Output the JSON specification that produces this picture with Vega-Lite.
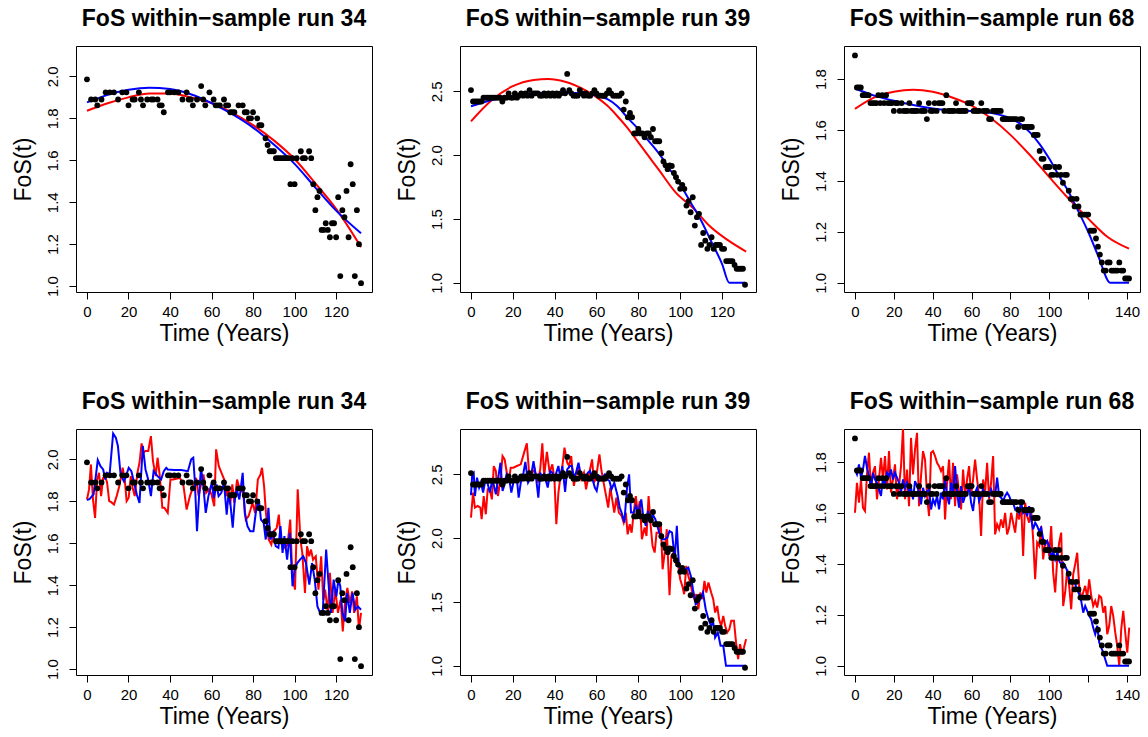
{
"$schema": "https://vega.github.io/schema/vega-lite/v6.json",
"background": "white",
"padding": {"left": 11, "top": 7, "right": 5, "bottom": 5},
"config": {
 "font": "Liberation Sans",
 "view": {"stroke": "black", "strokeWidth": 1},
 "axis": {"grid": false, "domain": false, "ticks": true, "tickColor": "black", "tickSize": 7, "tickWidth": 1, "labelColor": "black", "labelFontSize": 15, "titleColor": "black", "titleFontSize": 23, "titleFontWeight": "normal", "labelFont": "Liberation Sans", "titleFont": "Liberation Sans", "labelOverlap": false, "labelFlush": false},
 "axisX": {"labelPadding": 5, "titlePadding": 3},
 "axisY": {"labelAngle": -90, "labelAlign": "center", "labelBaseline": "alphabetic", "labelPadding": 12, "titlePadding": 10},
 "title": {"fontSize": 23, "fontWeight": "bold", "color": "black", "offset": 15, "font": "Liberation Sans"}
},
"datasets": {
 "o34": [{"t":0,"y":1.986},{"t":2,"y":1.89},{"t":4,"y":1.89},{"t":5,"y":1.862},{"t":7,"y":1.89},{"t":9,"y":1.924},{"t":11,"y":1.924},{"t":13,"y":1.924},{"t":15,"y":1.89},{"t":17,"y":1.924},{"t":19,"y":1.924},{"t":20,"y":1.862},{"t":22,"y":1.89},{"t":23,"y":1.89},{"t":25,"y":1.924},{"t":26,"y":1.89},{"t":27,"y":1.862},{"t":29,"y":1.89},{"t":31,"y":1.89},{"t":32,"y":1.89},{"t":34,"y":1.89},{"t":35,"y":1.862},{"t":36,"y":1.862},{"t":37,"y":1.829},{"t":39,"y":1.924},{"t":40,"y":1.924},{"t":42,"y":1.924},{"t":44,"y":1.924},{"t":46,"y":1.89},{"t":48,"y":1.924},{"t":49,"y":1.89},{"t":50,"y":1.89},{"t":51,"y":1.862},{"t":53,"y":1.89},{"t":55,"y":1.954},{"t":56,"y":1.89},{"t":57,"y":1.862},{"t":59,"y":1.924},{"t":61,"y":1.89},{"t":62,"y":1.862},{"t":63,"y":1.862},{"t":64,"y":1.862},{"t":66,"y":1.89},{"t":67,"y":1.862},{"t":68,"y":1.862},{"t":69,"y":1.829},{"t":70,"y":1.829},{"t":71,"y":1.829},{"t":73,"y":1.862},{"t":75,"y":1.862},{"t":76,"y":1.829},{"t":77,"y":1.829},{"t":78,"y":1.8},{"t":79,"y":1.8},{"t":80,"y":1.829},{"t":82,"y":1.8},{"t":83,"y":1.767},{"t":84,"y":1.767},{"t":86,"y":1.705},{"t":87,"y":1.673},{"t":88,"y":1.643},{"t":89,"y":1.643},{"t":90,"y":1.643},{"t":91,"y":1.61},{"t":92,"y":1.61},{"t":93,"y":1.61},{"t":94,"y":1.61},{"t":95,"y":1.61},{"t":96,"y":1.61},{"t":97,"y":1.61},{"t":98,"y":1.486},{"t":99,"y":1.61},{"t":100,"y":1.486},{"t":101,"y":1.61},{"t":103,"y":1.643},{"t":104,"y":1.61},{"t":105,"y":1.61},{"t":107,"y":1.643},{"t":108,"y":1.61},{"t":109,"y":1.486},{"t":110,"y":1.362},{"t":111,"y":1.424},{"t":112,"y":1.454},{"t":113,"y":1.268},{"t":114,"y":1.268},{"t":115,"y":1.3},{"t":116,"y":1.268},{"t":117,"y":1.233},{"t":118,"y":1.3},{"t":119,"y":1.3},{"t":120,"y":1.233},{"t":121,"y":1.424},{"t":122,"y":1.048},{"t":123,"y":1.362},{"t":124,"y":1.329},{"t":125,"y":1.454},{"t":126,"y":1.233},{"t":127,"y":1.581},{"t":128,"y":1.486},{"t":129,"y":1.048},{"t":130,"y":1.362},{"t":131,"y":1.2},{"t":132,"y":1.014}],
 "o39": [{"t":0,"y":2.51},{"t":1,"y":2.42},{"t":2,"y":2.42},{"t":3,"y":2.42},{"t":4,"y":2.42},{"t":5,"y":2.42},{"t":6,"y":2.45},{"t":7,"y":2.45},{"t":8,"y":2.45},{"t":9,"y":2.45},{"t":10,"y":2.45},{"t":11,"y":2.45},{"t":12,"y":2.45},{"t":13,"y":2.45},{"t":14,"y":2.45},{"t":15,"y":2.42},{"t":16,"y":2.45},{"t":17,"y":2.45},{"t":18,"y":2.484},{"t":19,"y":2.45},{"t":20,"y":2.45},{"t":21,"y":2.484},{"t":22,"y":2.45},{"t":23,"y":2.466},{"t":24,"y":2.484},{"t":25,"y":2.466},{"t":26,"y":2.484},{"t":27,"y":2.466},{"t":28,"y":2.51},{"t":29,"y":2.466},{"t":30,"y":2.484},{"t":31,"y":2.484},{"t":32,"y":2.484},{"t":33,"y":2.466},{"t":34,"y":2.466},{"t":35,"y":2.484},{"t":36,"y":2.466},{"t":37,"y":2.484},{"t":38,"y":2.466},{"t":39,"y":2.484},{"t":40,"y":2.466},{"t":41,"y":2.484},{"t":42,"y":2.466},{"t":43,"y":2.484},{"t":44,"y":2.51},{"t":45,"y":2.484},{"t":46,"y":2.636},{"t":47,"y":2.51},{"t":48,"y":2.484},{"t":49,"y":2.466},{"t":50,"y":2.466},{"t":51,"y":2.466},{"t":52,"y":2.51},{"t":53,"y":2.484},{"t":54,"y":2.466},{"t":55,"y":2.484},{"t":56,"y":2.466},{"t":57,"y":2.466},{"t":58,"y":2.484},{"t":59,"y":2.51},{"t":60,"y":2.484},{"t":61,"y":2.466},{"t":62,"y":2.466},{"t":63,"y":2.466},{"t":64,"y":2.466},{"t":65,"y":2.484},{"t":66,"y":2.51},{"t":67,"y":2.484},{"t":68,"y":2.466},{"t":69,"y":2.466},{"t":70,"y":2.466},{"t":71,"y":2.466},{"t":72,"y":2.484},{"t":73,"y":2.357},{"t":74,"y":2.42},{"t":75,"y":2.297},{"t":76,"y":2.33},{"t":77,"y":2.297},{"t":78,"y":2.17},{"t":79,"y":2.17},{"t":80,"y":2.205},{"t":81,"y":2.17},{"t":82,"y":2.17},{"t":83,"y":2.14},{"t":84,"y":2.17},{"t":85,"y":2.17},{"t":86,"y":2.14},{"t":87,"y":2.205},{"t":88,"y":2.109},{"t":89,"y":2.109},{"t":90,"y":2.109},{"t":91,"y":2.015},{"t":92,"y":1.95},{"t":93,"y":1.92},{"t":94,"y":1.89},{"t":95,"y":1.92},{"t":96,"y":1.915},{"t":97,"y":1.86},{"t":98,"y":1.827},{"t":99,"y":1.793},{"t":100,"y":1.736},{"t":101,"y":1.767},{"t":102,"y":1.736},{"t":103,"y":1.605},{"t":104,"y":1.64},{"t":105,"y":1.553},{"t":106,"y":1.67},{"t":107,"y":1.448},{"t":108,"y":1.514},{"t":109,"y":1.54},{"t":110,"y":1.297},{"t":111,"y":1.39},{"t":112,"y":1.33},{"t":113,"y":1.266},{"t":114,"y":1.297},{"t":115,"y":1.357},{"t":116,"y":1.266},{"t":117,"y":1.297},{"t":118,"y":1.297},{"t":119,"y":1.297},{"t":120,"y":1.266},{"t":121,"y":1.266},{"t":122,"y":1.17},{"t":123,"y":1.17},{"t":124,"y":1.17},{"t":125,"y":1.17},{"t":126,"y":1.14},{"t":127,"y":1.11},{"t":128,"y":1.11},{"t":129,"y":1.11},{"t":130,"y":1.11},{"t":131,"y":0.985}],
 "o68": [{"t":0,"y":1.893},{"t":1,"y":1.767},{"t":2,"y":1.767},{"t":3,"y":1.767},{"t":4,"y":1.737},{"t":5,"y":1.737},{"t":6,"y":1.737},{"t":7,"y":1.737},{"t":8,"y":1.706},{"t":9,"y":1.706},{"t":10,"y":1.706},{"t":11,"y":1.706},{"t":12,"y":1.737},{"t":13,"y":1.706},{"t":14,"y":1.737},{"t":15,"y":1.706},{"t":16,"y":1.737},{"t":17,"y":1.706},{"t":18,"y":1.706},{"t":19,"y":1.706},{"t":20,"y":1.675},{"t":21,"y":1.706},{"t":22,"y":1.706},{"t":23,"y":1.675},{"t":24,"y":1.706},{"t":25,"y":1.675},{"t":26,"y":1.675},{"t":27,"y":1.675},{"t":28,"y":1.706},{"t":29,"y":1.675},{"t":30,"y":1.675},{"t":31,"y":1.675},{"t":32,"y":1.675},{"t":33,"y":1.706},{"t":34,"y":1.675},{"t":35,"y":1.675},{"t":36,"y":1.675},{"t":37,"y":1.643},{"t":38,"y":1.706},{"t":39,"y":1.675},{"t":40,"y":1.675},{"t":41,"y":1.706},{"t":42,"y":1.675},{"t":43,"y":1.706},{"t":44,"y":1.706},{"t":45,"y":1.706},{"t":46,"y":1.675},{"t":47,"y":1.737},{"t":48,"y":1.675},{"t":49,"y":1.675},{"t":50,"y":1.675},{"t":51,"y":1.675},{"t":52,"y":1.706},{"t":53,"y":1.675},{"t":54,"y":1.675},{"t":55,"y":1.675},{"t":56,"y":1.675},{"t":57,"y":1.675},{"t":58,"y":1.706},{"t":59,"y":1.706},{"t":60,"y":1.706},{"t":61,"y":1.675},{"t":62,"y":1.675},{"t":63,"y":1.675},{"t":64,"y":1.675},{"t":65,"y":1.706},{"t":66,"y":1.675},{"t":67,"y":1.675},{"t":68,"y":1.675},{"t":69,"y":1.643},{"t":70,"y":1.643},{"t":71,"y":1.675},{"t":72,"y":1.675},{"t":73,"y":1.675},{"t":74,"y":1.675},{"t":75,"y":1.675},{"t":76,"y":1.643},{"t":77,"y":1.643},{"t":78,"y":1.643},{"t":79,"y":1.643},{"t":80,"y":1.643},{"t":81,"y":1.643},{"t":82,"y":1.643},{"t":83,"y":1.643},{"t":84,"y":1.612},{"t":85,"y":1.643},{"t":86,"y":1.643},{"t":87,"y":1.612},{"t":88,"y":1.612},{"t":89,"y":1.612},{"t":90,"y":1.612},{"t":91,"y":1.612},{"t":92,"y":1.581},{"t":93,"y":1.581},{"t":94,"y":1.581},{"t":95,"y":1.518},{"t":96,"y":1.487},{"t":97,"y":1.487},{"t":98,"y":1.455},{"t":99,"y":1.455},{"t":100,"y":1.455},{"t":101,"y":1.424},{"t":102,"y":1.424},{"t":103,"y":1.455},{"t":104,"y":1.424},{"t":105,"y":1.455},{"t":106,"y":1.424},{"t":107,"y":1.393},{"t":108,"y":1.424},{"t":109,"y":1.424},{"t":110,"y":1.362},{"t":111,"y":1.33},{"t":112,"y":1.33},{"t":113,"y":1.3},{"t":114,"y":1.33},{"t":115,"y":1.3},{"t":116,"y":1.268},{"t":117,"y":1.268},{"t":118,"y":1.268},{"t":119,"y":1.268},{"t":120,"y":1.268},{"t":121,"y":1.205},{"t":122,"y":1.205},{"t":123,"y":1.205},{"t":124,"y":1.174},{"t":125,"y":1.142},{"t":126,"y":1.111},{"t":127,"y":1.08},{"t":128,"y":1.048},{"t":129,"y":1.048},{"t":130,"y":1.08},{"t":131,"y":1.08},{"t":132,"y":1.048},{"t":133,"y":1.048},{"t":134,"y":1.048},{"t":135,"y":1.048},{"t":136,"y":1.08},{"t":137,"y":1.048},{"t":138,"y":1.048},{"t":139,"y":1.017},{"t":140,"y":1.017},{"t":141,"y":1.017}],
 "a34r": [{"t":0,"y":1.836},{"t":10,"y":1.872},{"t":20,"y":1.9},{"t":30,"y":1.918},{"t":40,"y":1.918},{"t":50,"y":1.9},{"t":60,"y":1.873},{"t":70,"y":1.826},{"t":80,"y":1.768},{"t":90,"y":1.695},{"t":100,"y":1.606},{"t":110,"y":1.49},{"t":120,"y":1.368},{"t":132,"y":1.186}],
 "a34b": [{"t":0,"y":1.876},{"t":10,"y":1.912},{"t":20,"y":1.936},{"t":30,"y":1.946},{"t":40,"y":1.94},{"t":50,"y":1.915},{"t":60,"y":1.873},{"t":70,"y":1.82},{"t":80,"y":1.756},{"t":90,"y":1.675},{"t":100,"y":1.583},{"t":110,"y":1.47},{"t":120,"y":1.36},{"t":132,"y":1.252}],
 "a39r": [{"t":0,"y":2.265},{"t":10,"y":2.432},{"t":20,"y":2.54},{"t":30,"y":2.589},{"t":37,"y":2.597},{"t":45,"y":2.575},{"t":55,"y":2.505},{"t":60,"y":2.455},{"t":65,"y":2.39},{"t":70,"y":2.305},{"t":75,"y":2.21},{"t":80,"y":2.1},{"t":85,"y":1.99},{"t":90,"y":1.88},{"t":97.7,"y":1.71},{"t":106.6,"y":1.579},{"t":113.8,"y":1.449},{"t":121.9,"y":1.344},{"t":131.5,"y":1.245}],
 "a39b": [{"t":0,"y":2.383},{"t":10,"y":2.432},{"t":20,"y":2.466},{"t":30,"y":2.485},{"t":40,"y":2.49},{"t":50,"y":2.487},{"t":60,"y":2.466},{"t":65,"y":2.44},{"t":70,"y":2.383},{"t":75,"y":2.29},{"t":80,"y":2.205},{"t":85,"y":2.11},{"t":90,"y":2.01},{"t":95,"y":1.89},{"t":100,"y":1.77},{"t":105,"y":1.63},{"t":110,"y":1.488},{"t":115,"y":1.318},{"t":120,"y":1.149},{"t":123.5,"y":1.0},{"t":131,"y":1.0}],
 "a68r": [{"t":0,"y":1.683},{"t":10,"y":1.728},{"t":20,"y":1.75},{"t":30,"y":1.758},{"t":40,"y":1.75},{"t":50,"y":1.728},{"t":60,"y":1.696},{"t":70,"y":1.646},{"t":80,"y":1.581},{"t":90,"y":1.502},{"t":100,"y":1.415},{"t":110,"y":1.33},{"t":120,"y":1.252},{"t":130,"y":1.18},{"t":141,"y":1.134}],
 "a68b": [{"t":0,"y":1.763},{"t":10,"y":1.735},{"t":20,"y":1.715},{"t":30,"y":1.698},{"t":40,"y":1.685},{"t":50,"y":1.677},{"t":60,"y":1.675},{"t":70,"y":1.667},{"t":80,"y":1.646},{"t":85,"y":1.625},{"t":90,"y":1.591},{"t":95,"y":1.545},{"t":100,"y":1.487},{"t":105,"y":1.42},{"t":110,"y":1.356},{"t":115,"y":1.28},{"t":120,"y":1.2},{"t":125,"y":1.108},{"t":131.5,"y":1.0},{"t":141,"y":1.0}],
 "b34b": [{"t":0,"y":1.806},{"t":1.3,"y":1.812},{"t":3.2,"y":1.833},{"t":5.2,"y":1.997},{"t":6.5,"y":1.968},{"t":7.8,"y":1.952},{"t":8.8,"y":1.904},{"t":9.7,"y":1.936},{"t":10.9,"y":1.928},{"t":12.6,"y":2.124},{"t":13.9,"y":2.104},{"t":14.9,"y":2.064},{"t":16.2,"y":1.928},{"t":17.8,"y":1.896},{"t":18.8,"y":1.92},{"t":20.1,"y":1.96},{"t":21.4,"y":1.944},{"t":22.7,"y":1.889},{"t":24,"y":1.833},{"t":25.3,"y":1.793},{"t":26.9,"y":2.064},{"t":28.2,"y":1.952},{"t":29.5,"y":1.904},{"t":30.8,"y":1.825},{"t":32.1,"y":1.944},{"t":34,"y":1.92},{"t":35.7,"y":1.904},{"t":37,"y":1.944},{"t":38.2,"y":1.96},{"t":38.9,"y":1.952},{"t":42.1,"y":1.95},{"t":45.4,"y":1.95},{"t":48.6,"y":1.944},{"t":50.2,"y":2.0},{"t":51.2,"y":2.008},{"t":51.9,"y":1.904},{"t":53,"y":1.658},{"t":54,"y":1.825},{"t":54.9,"y":1.96},{"t":55.9,"y":1.889},{"t":57.2,"y":1.745},{"t":58.5,"y":1.825},{"t":60.1,"y":1.889},{"t":61.1,"y":1.817},{"t":62.4,"y":1.881},{"t":63.4,"y":1.825},{"t":64.7,"y":1.841},{"t":66,"y":1.889},{"t":67.3,"y":1.737},{"t":68.2,"y":1.841},{"t":69.2,"y":1.777},{"t":70.2,"y":1.674},{"t":71.2,"y":1.809},{"t":72.1,"y":1.857},{"t":73.4,"y":1.809},{"t":75,"y":1.936},{"t":76,"y":1.745},{"t":77.3,"y":1.682},{"t":78.6,"y":1.658},{"t":80.2,"y":1.658},{"t":81.5,"y":1.761},{"t":82.8,"y":1.809},{"t":83.8,"y":1.713},{"t":85.1,"y":1.697},{"t":86.1,"y":1.618},{"t":87.4,"y":1.769},{"t":88.3,"y":1.618},{"t":89.6,"y":1.65},{"t":90.9,"y":1.586},{"t":92.2,"y":1.578},{"t":93.2,"y":1.682},{"t":94.2,"y":1.554},{"t":95.1,"y":1.634},{"t":96.4,"y":1.522},{"t":97.7,"y":1.65},{"t":99,"y":1.395},{"t":100,"y":1.475},{"t":101.3,"y":1.506},{"t":102.6,"y":1.522},{"t":104.2,"y":1.538},{"t":105.5,"y":1.506},{"t":107.1,"y":1.403},{"t":108.4,"y":1.506},{"t":109.7,"y":1.427},{"t":111,"y":1.299},{"t":112.3,"y":1.268},{"t":113.6,"y":1.283},{"t":115.2,"y":1.57},{"t":116.2,"y":1.427},{"t":117.5,"y":1.268},{"t":118.8,"y":1.427},{"t":120.1,"y":1.347},{"t":121.1,"y":1.427},{"t":122,"y":1.395},{"t":123,"y":1.268},{"t":124.3,"y":1.228},{"t":125.3,"y":1.363},{"t":126.6,"y":1.268},{"t":127.9,"y":1.363},{"t":129.2,"y":1.283},{"t":130.5,"y":1.299},{"t":132,"y":1.283}],
 "b34r": [{"t":0,"y":1.809},{"t":1,"y":1.857},{"t":1.9,"y":1.976},{"t":2.9,"y":1.809},{"t":3.9,"y":1.721},{"t":4.9,"y":1.904},{"t":5.8,"y":1.936},{"t":6.8,"y":1.825},{"t":7.8,"y":1.912},{"t":8.8,"y":1.92},{"t":9.7,"y":1.889},{"t":10.7,"y":1.801},{"t":11.7,"y":1.796},{"t":13,"y":1.785},{"t":14.3,"y":1.825},{"t":15.6,"y":1.873},{"t":17.2,"y":1.96},{"t":18.2,"y":1.904},{"t":19.1,"y":1.801},{"t":20.1,"y":1.817},{"t":21.1,"y":1.92},{"t":22,"y":1.865},{"t":23,"y":1.825},{"t":24.3,"y":1.936},{"t":25.3,"y":1.984},{"t":26.3,"y":2.076},{"t":27.2,"y":2.032},{"t":28.2,"y":2.04},{"t":29.5,"y":2.04},{"t":30.8,"y":2.111},{"t":31.8,"y":1.992},{"t":33.1,"y":1.92},{"t":34,"y":2.008},{"t":35,"y":1.928},{"t":36.3,"y":1.769},{"t":37.3,"y":1.769},{"t":38.9,"y":1.745},{"t":40.2,"y":1.904},{"t":41.5,"y":1.904},{"t":43.1,"y":1.908},{"t":44.7,"y":1.912},{"t":46.4,"y":1.881},{"t":48,"y":1.761},{"t":49.6,"y":1.825},{"t":51.2,"y":1.873},{"t":52.5,"y":1.912},{"t":53.8,"y":1.825},{"t":55.1,"y":1.889},{"t":56.1,"y":1.928},{"t":57.4,"y":1.841},{"t":58.7,"y":1.857},{"t":60,"y":1.833},{"t":61.3,"y":1.777},{"t":62.2,"y":2.048},{"t":63.5,"y":1.968},{"t":64.8,"y":1.936},{"t":66.1,"y":1.904},{"t":67.1,"y":1.825},{"t":68.1,"y":1.865},{"t":69,"y":1.785},{"t":70,"y":1.881},{"t":71,"y":1.793},{"t":72.3,"y":1.904},{"t":73.6,"y":1.857},{"t":75.2,"y":1.841},{"t":76.5,"y":1.713},{"t":77.8,"y":1.729},{"t":78.8,"y":1.761},{"t":79.7,"y":1.793},{"t":81,"y":1.745},{"t":82.3,"y":1.904},{"t":83.6,"y":1.928},{"t":84.3,"y":1.96},{"t":85.3,"y":1.873},{"t":86.2,"y":1.745},{"t":87.5,"y":1.618},{"t":88.8,"y":1.594},{"t":90.1,"y":1.658},{"t":91.4,"y":1.674},{"t":92.4,"y":1.737},{"t":93.4,"y":1.602},{"t":94.3,"y":1.586},{"t":95.3,"y":1.578},{"t":96.6,"y":1.594},{"t":97.9,"y":1.713},{"t":98.9,"y":1.443},{"t":100.2,"y":1.379},{"t":101.5,"y":1.857},{"t":102.8,"y":1.618},{"t":103.7,"y":1.554},{"t":105,"y":1.363},{"t":106,"y":1.586},{"t":107,"y":1.538},{"t":107.9,"y":1.57},{"t":108.9,"y":1.522},{"t":110.2,"y":1.538},{"t":111.5,"y":1.379},{"t":112.8,"y":1.538},{"t":113.8,"y":1.331},{"t":114.7,"y":1.379},{"t":116,"y":1.268},{"t":117,"y":1.459},{"t":118.3,"y":1.268},{"t":119.6,"y":1.379},{"t":120.9,"y":1.268},{"t":122.2,"y":1.331},{"t":123.2,"y":1.18},{"t":124.1,"y":1.299},{"t":125.4,"y":1.387},{"t":126.7,"y":1.315},{"t":127.7,"y":1.371},{"t":128.7,"y":1.268},{"t":130,"y":1.347},{"t":131,"y":1.188},{"t":132,"y":1.268}],
 "b39b": [{"t":0,"y":2.336},{"t":0.6,"y":2.5},{"t":1.3,"y":2.513},{"t":1.9,"y":2.33},{"t":2.9,"y":2.474},{"t":3.9,"y":2.396},{"t":4.8,"y":2.435},{"t":5.8,"y":2.357},{"t":6.8,"y":2.448},{"t":7.7,"y":2.448},{"t":9,"y":2.357},{"t":10.3,"y":2.461},{"t":11.9,"y":2.343},{"t":12.9,"y":2.461},{"t":14.1,"y":2.591},{"t":15.1,"y":2.37},{"t":16.1,"y":2.422},{"t":17,"y":2.5},{"t":18.3,"y":2.461},{"t":19.3,"y":2.357},{"t":20.6,"y":2.461},{"t":21.9,"y":2.474},{"t":22.8,"y":2.317},{"t":23.8,"y":2.435},{"t":25.1,"y":2.513},{"t":26,"y":2.597},{"t":27.3,"y":2.435},{"t":28.6,"y":2.474},{"t":29.9,"y":2.604},{"t":31.2,"y":2.461},{"t":32.2,"y":2.317},{"t":33.1,"y":2.513},{"t":34.1,"y":2.474},{"t":35,"y":2.5},{"t":36.7,"y":2.396},{"t":37.9,"y":2.526},{"t":38.9,"y":2.513},{"t":39.9,"y":2.461},{"t":40.8,"y":2.513},{"t":41.8,"y":2.565},{"t":42.8,"y":2.461},{"t":43.7,"y":2.565},{"t":45,"y":2.362},{"t":46,"y":2.539},{"t":47.3,"y":2.565},{"t":48.2,"y":2.565},{"t":49.2,"y":2.474},{"t":50.2,"y":2.513},{"t":51.4,"y":2.591},{"t":52.4,"y":2.5},{"t":53.7,"y":2.461},{"t":54.7,"y":2.474},{"t":55.9,"y":2.513},{"t":56.9,"y":2.526},{"t":57.9,"y":2.474},{"t":59.2,"y":2.396},{"t":60.1,"y":2.37},{"t":61.4,"y":2.487},{"t":62.7,"y":2.474},{"t":64,"y":2.5},{"t":65,"y":2.461},{"t":66.2,"y":2.448},{"t":67.2,"y":2.383},{"t":68.5,"y":2.435},{"t":70.1,"y":2.33},{"t":71.1,"y":2.239},{"t":72,"y":2.2},{"t":73.3,"y":2.122},{"t":74.6,"y":2.396},{"t":75.6,"y":2.5},{"t":76.5,"y":2.2},{"t":77.8,"y":2.2},{"t":78.8,"y":2.252},{"t":80.1,"y":2.2},{"t":81.4,"y":2.304},{"t":82.3,"y":2.174},{"t":83.6,"y":2.096},{"t":84.6,"y":2.213},{"t":85.9,"y":2.122},{"t":86.8,"y":2.187},{"t":88.1,"y":2.148},{"t":89.1,"y":2.096},{"t":90,"y":2.043},{"t":91.3,"y":1.991},{"t":92.6,"y":1.991},{"t":93.9,"y":2.004},{"t":94.9,"y":2.056},{"t":96.1,"y":2.043},{"t":97.4,"y":1.835},{"t":98.4,"y":2.096},{"t":99.4,"y":1.783},{"t":100.3,"y":1.756},{"t":101.3,"y":1.73},{"t":102.6,"y":1.756},{"t":103.9,"y":1.77},{"t":105.1,"y":1.704},{"t":106.1,"y":1.6},{"t":107.4,"y":1.483},{"t":108.4,"y":1.496},{"t":109.6,"y":1.522},{"t":110.9,"y":1.574},{"t":112.2,"y":1.443},{"t":113.5,"y":1.365},{"t":114.8,"y":1.313},{"t":115.8,"y":1.339},{"t":116.7,"y":1.222},{"t":118,"y":1.261},{"t":119.3,"y":1.157},{"t":120.6,"y":1.157},{"t":121.9,"y":1.0},{"t":131.5,"y":1.0}],
 "b39r": [{"t":0,"y":2.161},{"t":1,"y":2.357},{"t":1.9,"y":2.239},{"t":3.2,"y":2.252},{"t":4.5,"y":2.239},{"t":5.1,"y":2.148},{"t":6.1,"y":2.33},{"t":7.1,"y":2.187},{"t":8,"y":2.383},{"t":9,"y":2.383},{"t":10,"y":2.304},{"t":10.9,"y":2.565},{"t":11.9,"y":2.526},{"t":12.9,"y":2.33},{"t":14.1,"y":2.461},{"t":15.1,"y":2.643},{"t":16.1,"y":2.617},{"t":17,"y":2.526},{"t":18,"y":2.435},{"t":19,"y":2.552},{"t":20.3,"y":2.552},{"t":21.9,"y":2.565},{"t":23.8,"y":2.578},{"t":25.4,"y":2.67},{"t":26.7,"y":2.743},{"t":28,"y":2.461},{"t":29.3,"y":2.513},{"t":30.5,"y":2.539},{"t":31.8,"y":2.435},{"t":33.1,"y":2.539},{"t":34.1,"y":2.743},{"t":35,"y":2.487},{"t":36.3,"y":2.675},{"t":37.6,"y":2.513},{"t":38.9,"y":2.578},{"t":39.9,"y":2.461},{"t":40.8,"y":2.109},{"t":41.8,"y":2.357},{"t":42.8,"y":2.487},{"t":43.7,"y":2.565},{"t":44.7,"y":2.709},{"t":46,"y":2.591},{"t":46.9,"y":2.565},{"t":47.9,"y":2.643},{"t":49.2,"y":2.409},{"t":50.2,"y":2.5},{"t":51.4,"y":2.539},{"t":52.7,"y":2.461},{"t":54,"y":2.513},{"t":55,"y":2.383},{"t":55.9,"y":2.461},{"t":56.9,"y":2.539},{"t":57.9,"y":2.617},{"t":58.8,"y":2.435},{"t":59.8,"y":2.474},{"t":61.4,"y":2.657},{"t":62.4,"y":2.526},{"t":63.7,"y":2.409},{"t":64.6,"y":2.33},{"t":65.6,"y":2.239},{"t":66.6,"y":2.396},{"t":67.5,"y":2.304},{"t":68.5,"y":2.2},{"t":69.5,"y":2.317},{"t":70.7,"y":2.2},{"t":72,"y":2.174},{"t":73,"y":2.122},{"t":74,"y":2.2},{"t":74.9,"y":2.03},{"t":75.9,"y":2.109},{"t":76.8,"y":2.043},{"t":77.8,"y":2.2},{"t":78.8,"y":2.33},{"t":79.7,"y":2.2},{"t":80.7,"y":2.291},{"t":81.7,"y":1.991},{"t":83,"y":2.083},{"t":83.9,"y":2.017},{"t":84.9,"y":2.33},{"t":85.9,"y":2.096},{"t":86.8,"y":1.939},{"t":87.8,"y":1.887},{"t":88.7,"y":2.043},{"t":89.7,"y":2.043},{"t":90.7,"y":2.122},{"t":91.6,"y":1.756},{"t":92.6,"y":1.887},{"t":93.6,"y":2.07},{"t":94.9,"y":1.553},{"t":95.8,"y":1.861},{"t":96.8,"y":1.887},{"t":97.7,"y":1.809},{"t":99,"y":1.796},{"t":100,"y":1.678},{"t":101,"y":1.626},{"t":101.9,"y":1.561},{"t":102.9,"y":1.783},{"t":103.9,"y":1.704},{"t":104.8,"y":1.652},{"t":105.8,"y":1.574},{"t":106.8,"y":1.522},{"t":107.7,"y":1.561},{"t":108.7,"y":1.443},{"t":109.6,"y":1.574},{"t":110.6,"y":1.522},{"t":111.6,"y":1.665},{"t":112.5,"y":1.574},{"t":113.5,"y":1.652},{"t":114.8,"y":1.574},{"t":115.8,"y":1.522},{"t":116.7,"y":1.417},{"t":117.7,"y":1.469},{"t":118.6,"y":1.365},{"t":119.6,"y":1.313},{"t":120.6,"y":1.391},{"t":121.5,"y":1.313},{"t":122.5,"y":1.261},{"t":123.5,"y":1.287},{"t":124.4,"y":1.352},{"t":125.7,"y":1.352},{"t":126.7,"y":1.183},{"t":127.7,"y":1.052},{"t":128.6,"y":1.17},{"t":129.6,"y":1.091},{"t":130.5,"y":1.143},{"t":131.5,"y":1.209}],
 "b68b": [{"t":0,"y":1.771},{"t":1.03,"y":1.752},{"t":2.06,"y":1.791},{"t":3.09,"y":1.739},{"t":4.12,"y":1.771},{"t":5.15,"y":1.824},{"t":6.18,"y":1.778},{"t":7.21,"y":1.745},{"t":8.24,"y":1.699},{"t":9.27,"y":1.758},{"t":10.3,"y":1.732},{"t":11.33,"y":1.719},{"t":12.36,"y":1.693},{"t":13.39,"y":1.667},{"t":14.42,"y":1.739},{"t":15.45,"y":1.712},{"t":16.48,"y":1.758},{"t":17.51,"y":1.745},{"t":18.54,"y":1.771},{"t":19.57,"y":1.732},{"t":20.6,"y":1.758},{"t":21.63,"y":1.739},{"t":22.66,"y":1.719},{"t":23.69,"y":1.68},{"t":24.72,"y":1.732},{"t":25.75,"y":1.699},{"t":26.78,"y":1.719},{"t":27.81,"y":1.68},{"t":28.84,"y":1.699},{"t":29.87,"y":1.654},{"t":30.9,"y":1.725},{"t":31.93,"y":1.706},{"t":32.96,"y":1.68},{"t":33.99,"y":1.634},{"t":35.02,"y":1.699},{"t":36.05,"y":1.667},{"t":37.08,"y":1.686},{"t":38.11,"y":1.693},{"t":39.14,"y":1.614},{"t":40.17,"y":1.654},{"t":41.2,"y":1.634},{"t":42.23,"y":1.667},{"t":43.26,"y":1.614},{"t":44.29,"y":1.68},{"t":45.32,"y":1.654},{"t":46.35,"y":1.732},{"t":47.38,"y":1.667},{"t":48.41,"y":1.634},{"t":49.44,"y":1.719},{"t":50.47,"y":1.68},{"t":51.5,"y":1.784},{"t":52.53,"y":1.68},{"t":53.56,"y":1.621},{"t":54.59,"y":1.706},{"t":55.62,"y":1.641},{"t":56.65,"y":1.667},{"t":57.68,"y":1.673},{"t":58.71,"y":1.706},{"t":59.74,"y":1.641},{"t":60.77,"y":1.608},{"t":61.8,"y":1.68},{"t":62.83,"y":1.699},{"t":63.86,"y":1.647},{"t":64.89,"y":1.667},{"t":65.92,"y":1.693},{"t":66.95,"y":1.673},{"t":67.98,"y":1.68},{"t":69.01,"y":1.667},{"t":70.04,"y":1.693},{"t":71.07,"y":1.673},{"t":72.1,"y":1.667},{"t":73.13,"y":1.739},{"t":74.16,"y":1.667},{"t":75.19,"y":1.66},{"t":76.22,"y":1.647},{"t":77.25,"y":1.667},{"t":78.28,"y":1.68},{"t":79.31,"y":1.667},{"t":80.34,"y":1.647},{"t":81.37,"y":1.641},{"t":82.4,"y":1.614},{"t":83.43,"y":1.621},{"t":84.46,"y":1.601},{"t":85.49,"y":1.641},{"t":86.52,"y":1.601},{"t":87.55,"y":1.614},{"t":88.58,"y":1.588},{"t":89.61,"y":1.627},{"t":90.64,"y":1.575},{"t":91.67,"y":1.536},{"t":92.7,"y":1.562},{"t":93.73,"y":1.549},{"t":94.76,"y":1.529},{"t":95.79,"y":1.542},{"t":96.82,"y":1.497},{"t":97.85,"y":1.477},{"t":98.88,"y":1.49},{"t":99.91,"y":1.471},{"t":100.94,"y":1.418},{"t":101.97,"y":1.451},{"t":103,"y":1.418},{"t":104.03,"y":1.444},{"t":105.06,"y":1.412},{"t":106.09,"y":1.399},{"t":107.12,"y":1.405},{"t":108.15,"y":1.392},{"t":109.18,"y":1.373},{"t":110.21,"y":1.34},{"t":111.24,"y":1.333},{"t":112.27,"y":1.333},{"t":113.3,"y":1.32},{"t":114.33,"y":1.301},{"t":115.36,"y":1.281},{"t":116.39,"y":1.255},{"t":117.42,"y":1.209},{"t":118.45,"y":1.235},{"t":119.48,"y":1.216},{"t":120.51,"y":1.196},{"t":121.54,"y":1.183},{"t":122.57,"y":1.15},{"t":123.6,"y":1.124},{"t":124.63,"y":1.157},{"t":125.66,"y":1.092},{"t":126.69,"y":1.072},{"t":127.72,"y":1.052},{"t":128.75,"y":1.026},{"t":129.78,"y":1.0},{"t":141,"y":1.0}],
 "b68r": [{"t":0,"y":1.601},{"t":1.03,"y":1.719},{"t":2.06,"y":1.641},{"t":3.09,"y":1.732},{"t":4.12,"y":1.621},{"t":5.15,"y":1.608},{"t":6.18,"y":1.752},{"t":7.21,"y":1.837},{"t":8.24,"y":1.699},{"t":9.27,"y":1.758},{"t":10.3,"y":1.784},{"t":11.33,"y":1.654},{"t":12.36,"y":1.732},{"t":13.39,"y":1.817},{"t":14.42,"y":1.732},{"t":15.45,"y":1.824},{"t":16.48,"y":1.693},{"t":17.51,"y":1.843},{"t":18.54,"y":1.68},{"t":19.57,"y":1.732},{"t":20.6,"y":1.791},{"t":21.63,"y":1.654},{"t":22.66,"y":1.706},{"t":23.69,"y":1.784},{"t":24.72,"y":1.935},{"t":25.75,"y":1.654},{"t":26.78,"y":1.771},{"t":27.81,"y":1.627},{"t":28.84,"y":1.895},{"t":29.87,"y":1.752},{"t":30.9,"y":1.85},{"t":31.93,"y":1.915},{"t":32.96,"y":1.627},{"t":33.99,"y":1.745},{"t":35.02,"y":1.843},{"t":36.05,"y":1.81},{"t":37.08,"y":1.667},{"t":38.11,"y":1.588},{"t":39.14,"y":1.837},{"t":40.17,"y":1.843},{"t":41.2,"y":1.824},{"t":42.23,"y":1.797},{"t":43.26,"y":1.784},{"t":44.29,"y":1.765},{"t":45.32,"y":1.784},{"t":46.35,"y":1.575},{"t":47.38,"y":1.719},{"t":48.41,"y":1.81},{"t":49.44,"y":1.654},{"t":50.47,"y":1.797},{"t":51.5,"y":1.627},{"t":52.53,"y":1.752},{"t":53.56,"y":1.68},{"t":54.59,"y":1.614},{"t":55.62,"y":1.771},{"t":56.65,"y":1.667},{"t":57.68,"y":1.732},{"t":58.71,"y":1.784},{"t":59.74,"y":1.667},{"t":60.77,"y":1.732},{"t":61.8,"y":1.81},{"t":62.83,"y":1.732},{"t":63.86,"y":1.667},{"t":64.89,"y":1.51},{"t":65.92,"y":1.732},{"t":66.95,"y":1.68},{"t":67.98,"y":1.797},{"t":69.01,"y":1.654},{"t":70.04,"y":1.719},{"t":71.07,"y":1.824},{"t":72.1,"y":1.516},{"t":73.13,"y":1.556},{"t":74.16,"y":1.536},{"t":75.19,"y":1.575},{"t":76.22,"y":1.542},{"t":77.25,"y":1.601},{"t":78.28,"y":1.516},{"t":79.31,"y":1.542},{"t":80.34,"y":1.601},{"t":81.37,"y":1.562},{"t":82.4,"y":1.523},{"t":83.43,"y":1.601},{"t":84.46,"y":1.575},{"t":85.49,"y":1.641},{"t":86.52,"y":1.431},{"t":87.55,"y":1.641},{"t":88.58,"y":1.588},{"t":89.61,"y":1.562},{"t":90.64,"y":1.614},{"t":91.67,"y":1.497},{"t":92.7,"y":1.34},{"t":93.73,"y":1.484},{"t":94.76,"y":1.471},{"t":95.79,"y":1.549},{"t":96.82,"y":1.418},{"t":97.85,"y":1.484},{"t":98.88,"y":1.49},{"t":99.91,"y":1.431},{"t":100.94,"y":1.549},{"t":101.97,"y":1.366},{"t":103,"y":1.288},{"t":104.03,"y":1.418},{"t":105.06,"y":1.484},{"t":106.09,"y":1.523},{"t":107.12,"y":1.235},{"t":108.15,"y":1.288},{"t":109.18,"y":1.379},{"t":110.21,"y":1.314},{"t":111.24,"y":1.222},{"t":112.27,"y":1.359},{"t":113.3,"y":1.399},{"t":114.33,"y":1.444},{"t":115.36,"y":1.314},{"t":116.39,"y":1.261},{"t":117.42,"y":1.288},{"t":118.45,"y":1.314},{"t":119.48,"y":1.268},{"t":120.51,"y":1.34},{"t":121.54,"y":1.275},{"t":122.57,"y":1.235},{"t":123.6,"y":1.255},{"t":124.63,"y":1.229},{"t":125.66,"y":1.275},{"t":126.69,"y":1.268},{"t":127.72,"y":1.209},{"t":128.75,"y":1.235},{"t":129.78,"y":1.124},{"t":130.81,"y":1.157},{"t":131.84,"y":1.235},{"t":132.87,"y":1.196},{"t":133.9,"y":1.131},{"t":134.93,"y":1.078},{"t":135.96,"y":1.0},{"t":136.99,"y":1.144},{"t":138.02,"y":1.216},{"t":139.05,"y":1.131},{"t":140.08,"y":1.052},{"t":141.1,"y":1.15}]
},
"bounds": "flush",
"columns": 3,
"spacing": {"row": 137, "column": 88},
"concat": [
 {"width": 296, "height": 246, "title": "FoS within−sample run 34",
  "encoding": {"x": {"field": "t", "type": "quantitative", "scale": {"domain": [-5.28, 137.28], "nice": false, "zero": false}, "axis": {"title": "Time (Years)", "values": [0,20,40,60,80,100,120]}},
               "y": {"field": "y", "type": "quantitative", "scale": {"domain": [0.972, 2.145], "nice": false, "zero": false}, "axis": {"title": "FoS(t)", "values": [1,1.2,1.4,1.6,1.8,2], "format": ".1f"}}},
  "layer": [
   {"data": {"name": "a34r"}, "mark": {"type": "line", "color": "#FF0000", "strokeWidth": 2, "interpolate": "monotone", "clip": true}, "encoding": {}},
   {"data": {"name": "a34b"}, "mark": {"type": "line", "color": "#0000FF", "strokeWidth": 2, "interpolate": "monotone", "clip": true}, "encoding": {}},
   {"data": {"name": "o34"}, "mark": {"type": "circle", "color": "black", "opacity": 1, "size": 34, "clip": true}, "encoding": {}}
  ]},
 {"width": 296, "height": 246, "title": "FoS within−sample run 39",
  "encoding": {"x": {"field": "t", "type": "quantitative", "scale": {"domain": [-5.24, 136.24], "nice": false, "zero": false}, "axis": {"title": "Time (Years)", "values": [0,20,40,60,80,100,120]}},
               "y": {"field": "y", "type": "quantitative", "scale": {"domain": [0.928, 2.855], "nice": false, "zero": false}, "axis": {"title": "FoS(t)", "values": [1,1.5,2,2.5], "format": ".1f"}}},
  "layer": [
   {"data": {"name": "a39r"}, "mark": {"type": "line", "color": "#FF0000", "strokeWidth": 2, "interpolate": "monotone", "clip": true}, "encoding": {}},
   {"data": {"name": "a39b"}, "mark": {"type": "line", "color": "#0000FF", "strokeWidth": 2, "interpolate": "monotone", "clip": true}, "encoding": {}},
   {"data": {"name": "o39"}, "mark": {"type": "circle", "color": "black", "opacity": 1, "size": 34, "clip": true}, "encoding": {}}
  ]},
 {"width": 296, "height": 246, "title": "FoS within−sample run 68",
  "encoding": {"x": {"field": "t", "type": "quantitative", "scale": {"domain": [-5.64, 146.64], "nice": false, "zero": false}, "axis": {"title": "Time (Years)", "values": [0,20,40,60,80,100,120,140], "labelExpr": "datum.value == 120 ? '' : datum.label"}},
               "y": {"field": "y", "type": "quantitative", "scale": {"domain": [0.964, 1.93], "nice": false, "zero": false}, "axis": {"title": "FoS(t)", "values": [1,1.2,1.4,1.6,1.8], "format": ".1f"}}},
  "layer": [
   {"data": {"name": "a68r"}, "mark": {"type": "line", "color": "#FF0000", "strokeWidth": 2, "interpolate": "monotone", "clip": true}, "encoding": {}},
   {"data": {"name": "a68b"}, "mark": {"type": "line", "color": "#0000FF", "strokeWidth": 2, "interpolate": "monotone", "clip": true}, "encoding": {}},
   {"data": {"name": "o68"}, "mark": {"type": "circle", "color": "black", "opacity": 1, "size": 34, "clip": true}, "encoding": {}}
  ]},
 {"width": 296, "height": 246, "title": "FoS within−sample run 34",
  "encoding": {"x": {"field": "t", "type": "quantitative", "scale": {"domain": [-5.28, 137.28], "nice": false, "zero": false}, "axis": {"title": "Time (Years)", "values": [0,20,40,60,80,100,120]}},
               "y": {"field": "y", "type": "quantitative", "scale": {"domain": [0.972, 2.145], "nice": false, "zero": false}, "axis": {"title": "FoS(t)", "values": [1,1.2,1.4,1.6,1.8,2], "format": ".1f"}}},
  "layer": [
   {"data": {"name": "b34r"}, "mark": {"type": "line", "color": "#FF0000", "strokeWidth": 2, "clip": true}, "encoding": {}},
   {"data": {"name": "b34b"}, "mark": {"type": "line", "color": "#0000FF", "strokeWidth": 2, "clip": true}, "encoding": {}},
   {"data": {"name": "o34"}, "mark": {"type": "circle", "color": "black", "opacity": 1, "size": 34, "clip": true}, "encoding": {}}
  ]},
 {"width": 296, "height": 246, "title": "FoS within−sample run 39",
  "encoding": {"x": {"field": "t", "type": "quantitative", "scale": {"domain": [-5.24, 136.24], "nice": false, "zero": false}, "axis": {"title": "Time (Years)", "values": [0,20,40,60,80,100,120]}},
               "y": {"field": "y", "type": "quantitative", "scale": {"domain": [0.928, 2.855], "nice": false, "zero": false}, "axis": {"title": "FoS(t)", "values": [1,1.5,2,2.5], "format": ".1f"}}},
  "layer": [
   {"data": {"name": "b39r"}, "mark": {"type": "line", "color": "#FF0000", "strokeWidth": 2, "clip": true}, "encoding": {}},
   {"data": {"name": "b39b"}, "mark": {"type": "line", "color": "#0000FF", "strokeWidth": 2, "clip": true}, "encoding": {}},
   {"data": {"name": "o39"}, "mark": {"type": "circle", "color": "black", "opacity": 1, "size": 34, "clip": true}, "encoding": {}}
  ]},
 {"width": 296, "height": 246, "title": "FoS within−sample run 68",
  "encoding": {"x": {"field": "t", "type": "quantitative", "scale": {"domain": [-5.64, 146.64], "nice": false, "zero": false}, "axis": {"title": "Time (Years)", "values": [0,20,40,60,80,100,120,140], "labelExpr": "datum.value == 120 ? '' : datum.label"}},
               "y": {"field": "y", "type": "quantitative", "scale": {"domain": [0.964, 1.93], "nice": false, "zero": false}, "axis": {"title": "FoS(t)", "values": [1,1.2,1.4,1.6,1.8], "format": ".1f"}}},
  "layer": [
   {"data": {"name": "b68r"}, "mark": {"type": "line", "color": "#FF0000", "strokeWidth": 2, "clip": true}, "encoding": {}},
   {"data": {"name": "b68b"}, "mark": {"type": "line", "color": "#0000FF", "strokeWidth": 2, "clip": true}, "encoding": {}},
   {"data": {"name": "o68"}, "mark": {"type": "circle", "color": "black", "opacity": 1, "size": 34, "clip": true}, "encoding": {}}
  ]}
]
}
